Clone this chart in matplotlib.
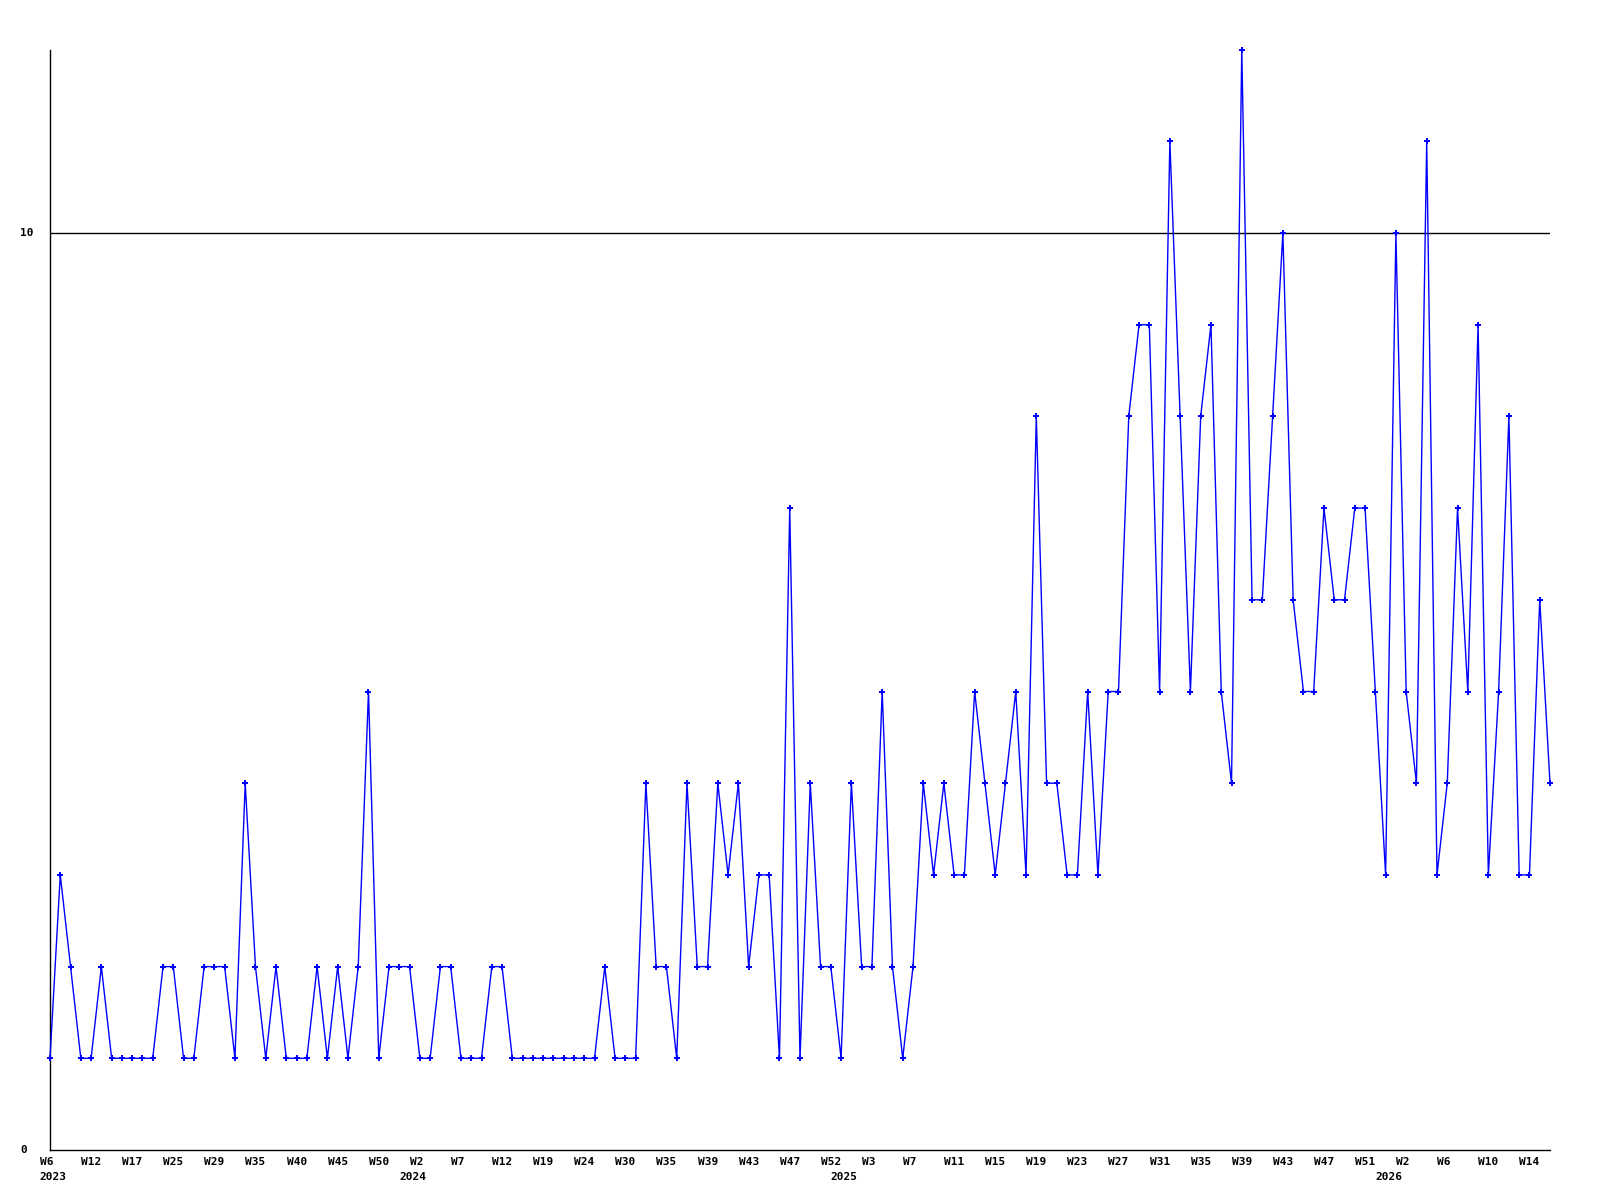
import matplotlib
matplotlib.use("Agg")
import matplotlib.pyplot as plt
from matplotlib.transforms import blended_transform_factory, offset_copy

values = [1, 3, 2, 1, 1, 2, 1, 1, 1, 1, 1, 2, 2, 1, 1, 2, 2, 2, 1, 4,
          2, 1, 2, 1, 1, 1, 2, 1, 2, 1, 2, 5, 1, 2, 2, 2, 1, 1, 2, 2,
          1, 1, 1, 2, 2, 1, 1, 1, 1, 1, 1, 1, 1, 1, 2, 1, 1, 1, 4, 2,
          2, 1, 4, 2, 2, 4, 3, 4, 2, 3, 3, 1, 7, 1, 4, 2, 2, 1, 4, 2,
          2, 5, 2, 1, 2, 4, 3, 4, 3, 3, 5, 4, 3, 4, 5, 3, 8, 4, 4, 3,
          3, 5, 3, 5, 5, 8, 9, 9, 5, 11, 8, 5, 8, 9, 5, 4, 12, 6, 6, 8,
          10, 6, 5, 5, 7, 6, 6, 7, 7, 5, 3, 10, 5, 4, 11, 3, 4, 7, 5, 9,
          3, 5, 8, 3, 3, 6, 4]

week_labels = ["W6", "W12", "W17", "W25", "W29", "W35", "W40", "W45", "W50",
               "W2", "W7", "W12", "W19", "W24", "W30", "W35", "W39", "W43",
               "W47", "W52", "W3", "W7", "W11", "W15", "W19", "W23", "W27",
               "W31", "W35", "W39", "W43", "W47", "W51", "W2", "W6", "W10", "W14"]
label_step = 4

year_labels = ["2023", "2024", "2025", "2026"]
year_index = [-1, 34, 76, 129]

y_ticks = [0, 10]
y_max = 12

W, H = 1600, 1200
fig = plt.figure(figsize=(16, 12), dpi=100)
fig.patch.set_facecolor("white")
ax = fig.add_axes([50 / W, 50 / H, 1500 / W, (1150 - 49.6) / H])

x = list(range(len(values)))
ax.plot(x, values, color="#0000ff", lw=1.0, marker="P", ms=4.5, mew=0,
        clip_on=False, zorder=3)
ax.set_xlim(0, len(values) - 1)
ax.set_ylim(0, y_max)
ax.axhline(10, color="black", lw=1.0, zorder=2)

for s in ("top", "right"):
    ax.spines[s].set_visible(False)
for s in ("left", "bottom"):
    ax.spines[s].set_color("black")
    ax.spines[s].set_linewidth(1.0)
ax.set_xticks([])
ax.set_yticks([])

font = dict(family="DejaVu Sans Mono", fontweight="bold", fontsize=8, color="black")

tb = blended_transform_factory(ax.transData, ax.transAxes)
wk_tr = offset_copy(tb, fig=fig, x=-10, y=-12, units="dots")
yr_tr = offset_copy(tb, fig=fig, x=0, y=-27, units="dots")
for k, lab in enumerate(week_labels):
    ax.text(k * label_step, 0, lab, transform=wk_tr, ha="left", va="center",
            clip_on=False, **font)
for lab, xi in zip(year_labels, year_index):
    ax.text(xi, 0, lab, transform=yr_tr, ha="left", va="center",
            clip_on=False, **font)

ty = blended_transform_factory(fig.transFigure, ax.transData)
for t in y_ticks:
    ax.text(20 / W, t, str(t), transform=ty, ha="left", va="center",
            clip_on=False, **font)

fig.savefig("out.png", dpi=100, facecolor="white")
